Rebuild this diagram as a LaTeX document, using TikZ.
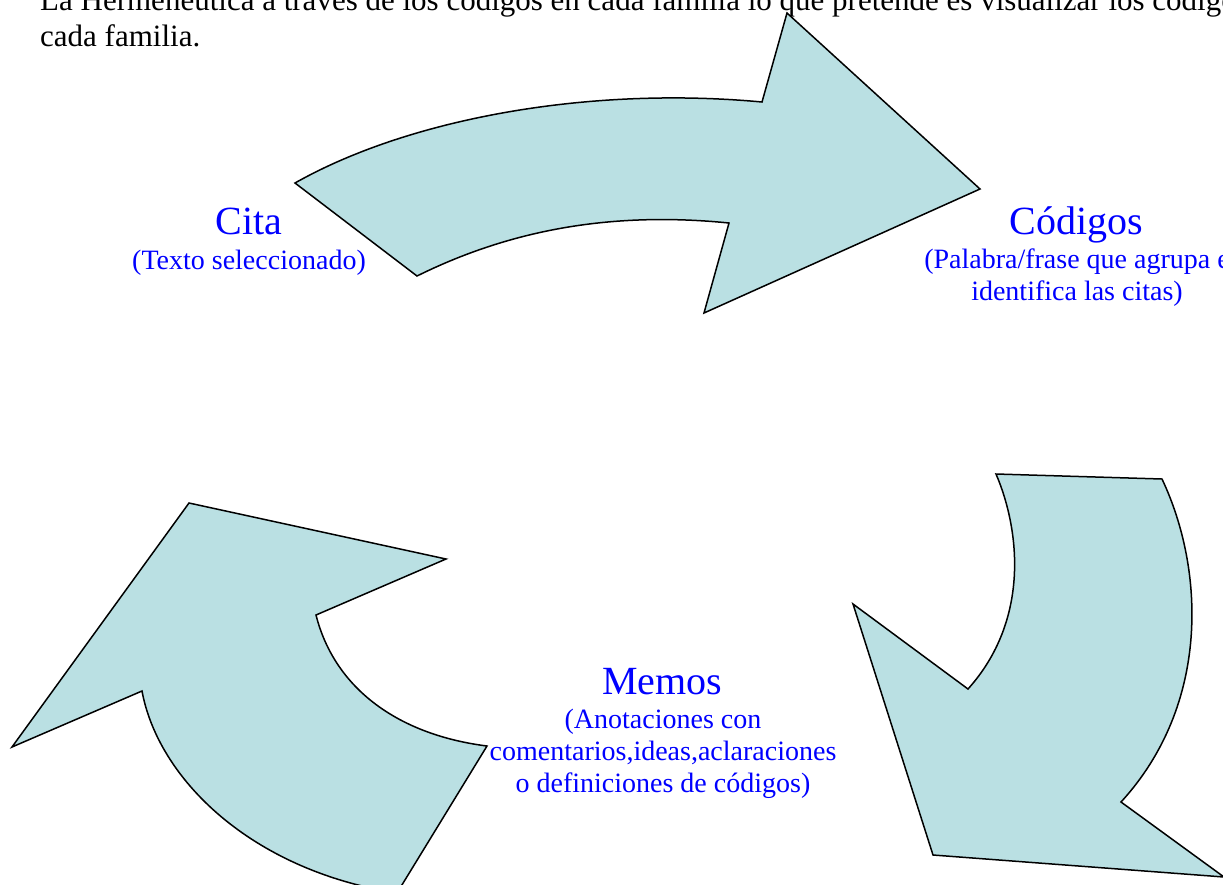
\documentclass[tikz,border=0pt]{standalone}
\usepackage{fontspec}
\setmainfont{Liberation Serif}
\usepackage{xcolor}
\definecolor{cyclefill}{RGB}{186,224,227}
\definecolor{cycleblue}{RGB}{0,0,255}
\usetikzlibrary{positioning}

\begin{document}
\begin{tikzpicture}[
  x=1pt,y=-1pt,
  bigarrow/.style={draw=black,line width=1.5pt,fill=cyclefill,line join=miter},
  intro/.style={anchor=base west,align=left,inner sep=0pt,font=\fontsize{31}{35.5}\selectfont},
  title/.style={anchor=base,inner sep=0pt,text=cycleblue,font=\fontsize{40}{46}\selectfont},
  note/.style={anchor=base,inner sep=0pt,align=center,text=cycleblue,font=\fontsize{28}{32}\selectfont}
]
  \useasboundingbox (0,0) rectangle (1223,884);
  \clip (0,0) rectangle (1223,884);
  % Intro text (last line baseline)
  \node[intro] (intro) at (40,46) {La Hermenéutica a través de los códigos en cada familia lo que pretende es visualizar los códigos\\cada familia.};
  % Curved arrows
  \draw[bigarrow] (295,183) .. controls (410,118) and (590,86) .. (762,102) -- (787,13) -- (980,189)
    -- (704,313) -- (729,223) .. controls (600,210) and (500,235) .. (417,276) -- cycle;
  \draw[bigarrow] (996,474) -- (1162,479) .. controls (1205,570) and (1210,705) .. (1121,802)
    -- (1224,877) -- (933,855) -- (853,604) -- (968,689) .. controls (1030,620) and (1020,530) .. (996,474) -- cycle;
  \draw[bigarrow] (316,615) .. controls (335,690) and (400,735) .. (487,746) -- (397,893)
    .. controls (250,870) and (158,778) .. (142,691) -- (12,747) -- (189,503) -- (446,559) -- cycle;
  % Cita
  \node[title] (cita) at (249,234) {Cita};
  \node[note] (cita note) at (249,269) {(Texto seleccionado)};
  % Codigos
  \node[title] (codigos) at (1076,234) {Códigos};
  \node[note] (codigos note) at (1077,300) {(Palabra/frase que agrupa e\\identifica las citas)};
  % Memos
  \node[title] (memos) at (662,694) {Memos};
  \node[note] (memos note) at (663,792) {(Anotaciones con\\comentarios,ideas,aclaraciones\\o definiciones de códigos)};
\end{tikzpicture}
\end{document}
